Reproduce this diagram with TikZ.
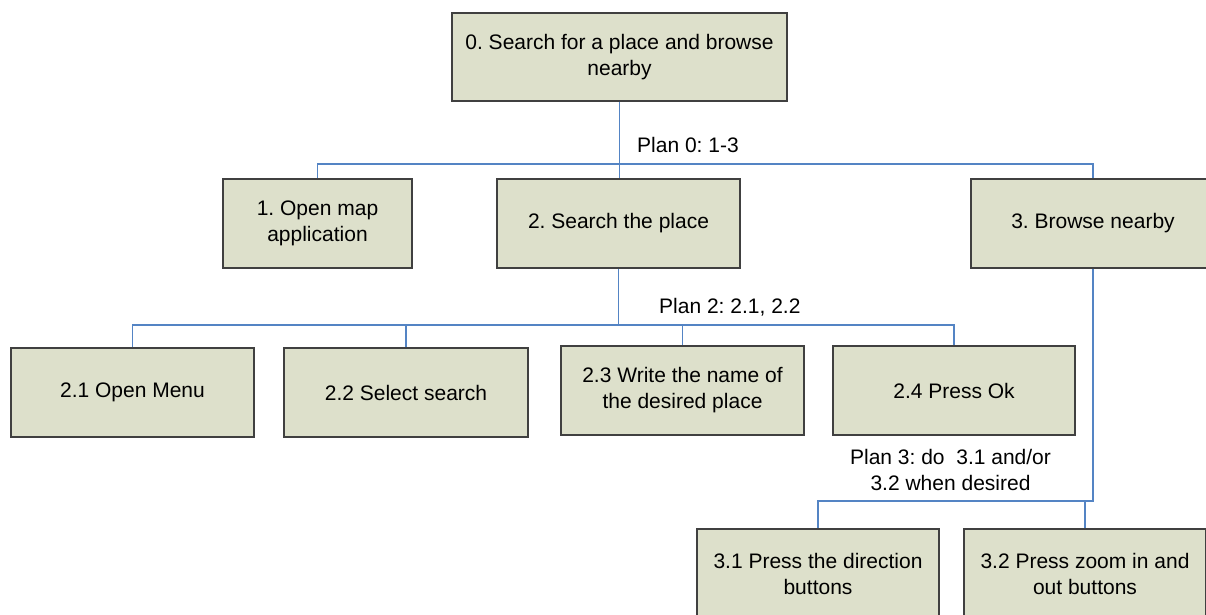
\documentclass[tikz,border=0pt]{standalone}
\usepackage{fontspec}
\setmainfont{Liberation Sans}
\frenchspacing
\definecolor{boxfill}{RGB}{221,224,203}
\definecolor{boxline}{RGB}{64,64,64}
\definecolor{linkblue}{RGB}{84,132,196}
\tikzset{
  task/.style={draw=boxline, line width=1.2pt, fill=boxfill, align=center,
    inner sep=0pt, font=\fontsize{21}{26}\selectfont, text=black},
  link/.style={draw=linkblue, line width=1.3pt},
  plan/.style={font=\fontsize{21}{26}\selectfont, align=center, inner sep=0pt, text=black}
}
\begin{document}
\begin{tikzpicture}[x=1pt, y=-1pt]
\useasboundingbox (0,0) rectangle (1206,615);

% top-level task
\node[task, minimum width=335pt, minimum height=88pt] (b0) at (619.5,57)
  {0. Search for a place and browse\\nearby};

% level 1
\node[task, minimum width=189pt, minimum height=89pt] (b1) at (317.5,223.5)
  {1. Open map\\application};
\node[task, minimum width=243pt, minimum height=89pt] (b2) at (618.5,223.5)
  {2. Search the place};
\node[task, minimum width=244pt, minimum height=89pt] (b3) at (1093,223.5)
  {3. Browse nearby};

% level 2 under task 2
\node[task, minimum width=243pt, minimum height=89pt] (b21) at (132.5,392.5)
  {2.1 Open Menu};
\node[task, minimum width=244pt, minimum height=89pt] (b22) at (406,392.5)
  {2.2 Select search};
\node[task, minimum width=243pt, minimum height=89pt] (b23) at (682.5,390.5)
  {2.3 Write the name of\\the desired place};
\node[task, minimum width=242pt, minimum height=89pt] (b24) at (954,390.5)
  {2.4 Press Ok};

% level 2 under task 3
\node[task, minimum width=242pt, minimum height=89pt] (b31) at (818,573.5)
  {3.1 Press the direction\\buttons};
\node[task, minimum width=242pt, minimum height=89pt] (b32) at (1085,573.5)
  {3.2 Press zoom in and\\out buttons};

% junction levels
\coordinate (j0) at (619,164);
\coordinate (j2) at (618,325);
\coordinate (j3) at (1092,501);

% plan 0 connectors
\draw[link] (b0.south) -- (b0.south |- b2.north);
\draw[link] (b1.north) -- (b1.north |- j0) -- (b3.north |- j0) -- (b3.north);

% plan 2 connectors
\draw[link] (b2.south) -- (b2.south |- j2);
\draw[link] (b21.north) -- (b21.north |- j2) -- (b24.north |- j2) -- (b24.north);
\draw[link] (b22.north) -- (b22.north |- j2);
\draw[link] (b23.north) -- (b23.north |- j2);

% plan 3 connectors
\draw[link] (b3.south) -- (b3.south |- j3) -- (b31.north |- j3) -- (b31.north);
\draw[link] (b32.north) -- (b32.north |- j3);

% plan labels
\node[plan, anchor=west] (p0) at (637,145) {Plan 0: 1-3};
\node[plan, anchor=west] (p2) at (659,307) {Plan 2: 2.1, 2.2};
\node[plan] (p3) at (950.5,470) {Plan 3: do\ \ 3.1 and/or\\3.2 when desired};
\end{tikzpicture}
\end{document}
